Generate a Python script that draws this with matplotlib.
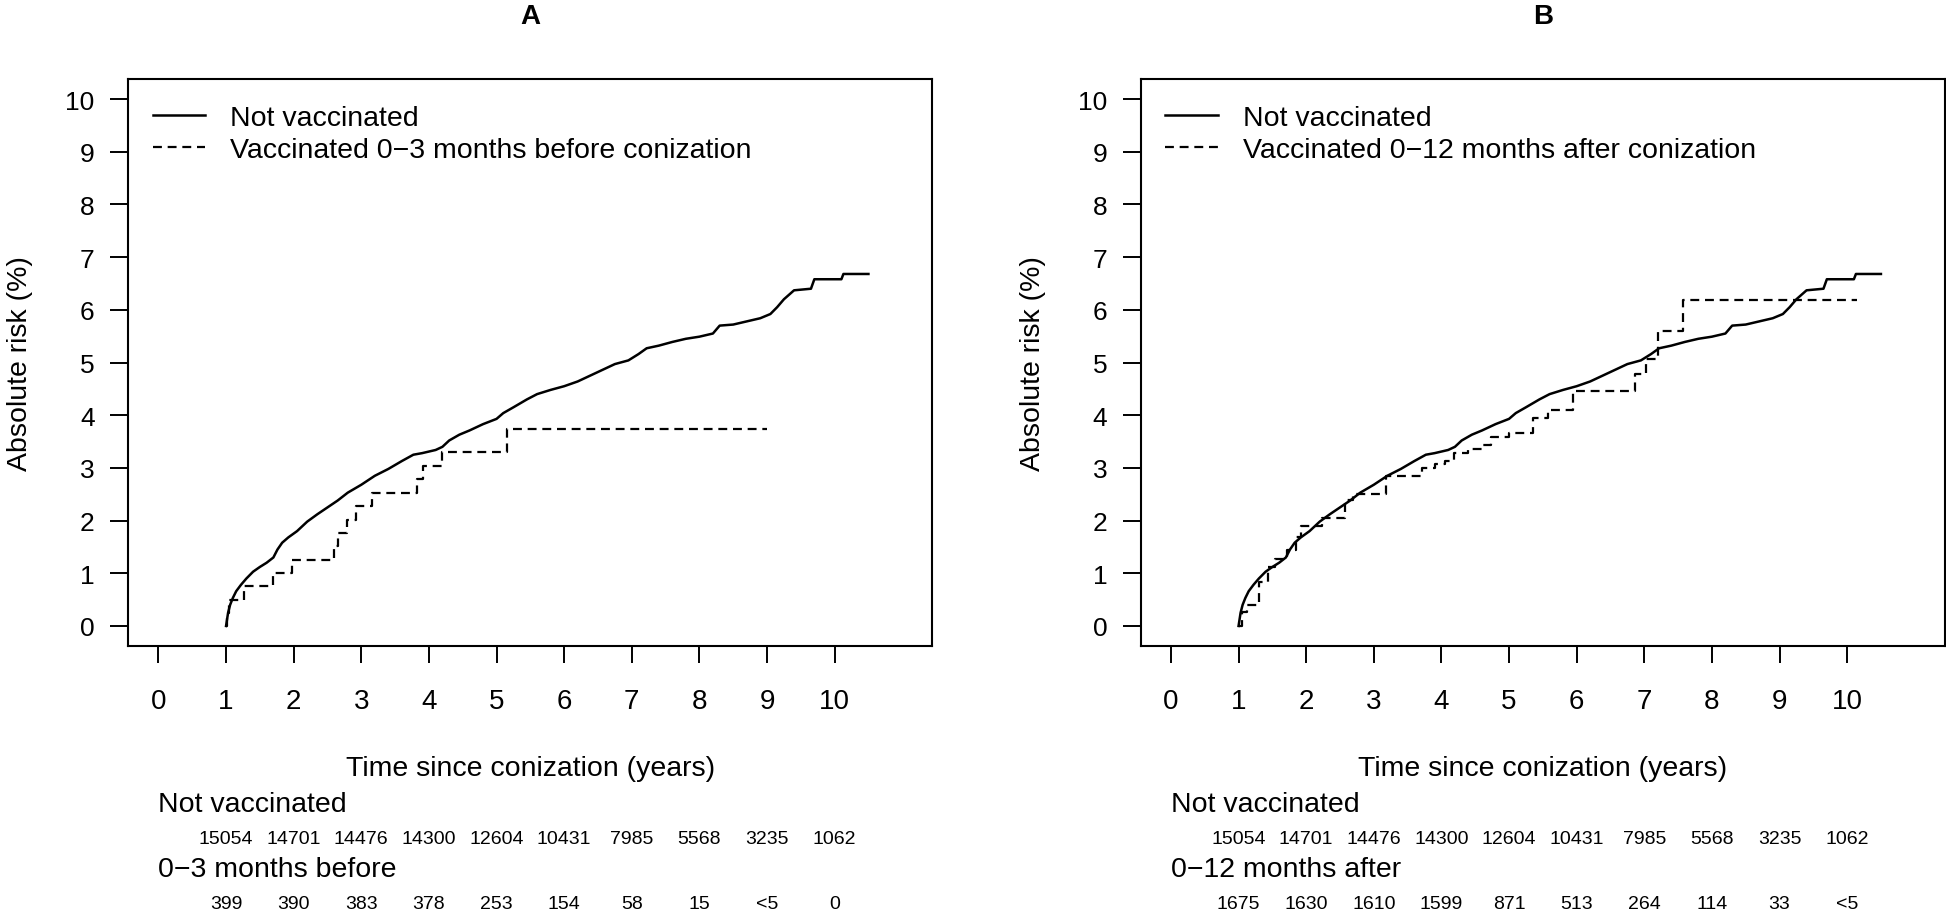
import matplotlib
matplotlib.use("Agg")
import matplotlib.pyplot as plt
from matplotlib.transforms import blended_transform_factory

plt.rcParams['font.family'] = ['Liberation Sans', 'DejaVu Sans']

# Not vaccinated (same curve in both panels), years since conization vs absolute risk (%)
not_vacc_t = [1.00, 1.03, 1.06, 1.10, 1.15, 1.22, 1.30, 1.40, 1.50, 1.60, 1.70, 1.76,
              1.83, 1.92, 2.05, 2.20, 2.35, 2.50, 2.65, 2.80, 3.00, 3.20, 3.40, 3.60,
              3.77, 3.90, 4.10, 4.20, 4.30, 4.45, 4.60, 4.80, 5.00, 5.10, 5.25, 5.45,
              5.60, 5.80, 6.00, 6.20, 6.40, 6.55, 6.75, 6.95, 7.10, 7.22, 7.40, 7.60,
              7.80, 8.00, 8.20, 8.30, 8.50, 8.70, 8.90, 9.05, 9.15, 9.25, 9.40, 9.65,
              9.70, 10.10, 10.13, 10.50]
not_vacc_r = [0.00, 0.25, 0.40, 0.53, 0.66, 0.78, 0.90, 1.03, 1.12, 1.20, 1.30, 1.45,
              1.58, 1.68, 1.80, 1.98, 2.12, 2.25, 2.38, 2.53, 2.68, 2.85, 2.98, 3.13,
              3.25, 3.28, 3.34, 3.40, 3.52, 3.63, 3.71, 3.83, 3.93, 4.04, 4.15, 4.30,
              4.40, 4.48, 4.55, 4.64, 4.76, 4.85, 4.97, 5.04, 5.16, 5.27, 5.32, 5.39,
              5.45, 5.49, 5.55, 5.70, 5.72, 5.78, 5.84, 5.92, 6.05, 6.20, 6.37, 6.40,
              6.58, 6.58, 6.68, 6.68]

# Vaccinated 0-3 months before conization (panel A)
before_t = [1.00, 1.02, 1.04, 1.27, 1.70, 1.97, 2.60, 2.65, 2.79, 2.92, 3.16, 3.83,
            3.91, 4.19, 5.16, 9.00]
before_r = [0.00, 0.25, 0.50, 0.76, 1.01, 1.26, 1.51, 1.77, 2.02, 2.27, 2.53, 2.78,
            3.04, 3.30, 3.73, 3.73]

# Vaccinated 0-12 months after conization (panel B)
after_t = [1.00, 1.05, 1.12, 1.30, 1.44, 1.54, 1.72, 1.85, 1.93, 2.24, 2.58, 2.69,
           3.18, 3.72, 3.90, 4.05, 4.18, 4.40, 4.60, 4.73, 5.00, 5.35, 5.57, 5.95,
           6.86, 7.02, 7.21, 7.58, 10.14]
after_r = [0.00, 0.26, 0.40, 0.84, 1.12, 1.28, 1.45, 1.69, 1.90, 2.05, 2.39, 2.50,
           2.84, 3.00, 3.07, 3.13, 3.28, 3.35, 3.43, 3.58, 3.66, 3.94, 4.09, 4.46,
           4.78, 5.06, 5.59, 6.19, 6.19]

# Numbers at risk at years 1..10
risk_years = [1, 2, 3, 4, 5, 6, 7, 8, 9, 10]
risk_not_vacc = ['15054', '14701', '14476', '14300', '12604', '10431', '7985', '5568', '3235', '1062']
risk_before = ['399', '390', '383', '378', '253', '154', '58', '15', '<5', '0']
risk_after = ['1675', '1630', '1610', '1599', '871', '513', '264', '114', '33', '<5']

W, H = 1946, 912
fig = plt.figure(figsize=(W / 100, H / 100), dpi=100)

panels = [
    ('A', 128, before_t, before_r, 'Vaccinated 0\u22123 months before conization',
     '0\u22123 months before', risk_before),
    ('B', 1140.5, after_t, after_r, 'Vaccinated 0\u221212 months after conization',
     '0\u221212 months after', risk_after),
]

for title, left, vt, vr, vlabel, rlabel, rvals in panels:
    ax = fig.add_axes([left / W, (H - 647) / H, 804 / W, 567 / H])
    ax.plot(not_vacc_t, not_vacc_r, color='black', lw=1.8, label='Not vaccinated')
    ax.plot(vt, vr, color='black', lw=1.6, ls=(0, (4.0, 2.6)), drawstyle='steps-post',
            label=vlabel)
    ax.set_xlim(-0.45, 11.44)
    ax.set_ylim(-0.38, 10.38)
    ax.set_xticks(range(0, 11))
    ax.set_yticks(range(0, 11))
    for s in ax.spines.values():
        s.set_linewidth(1.5)
    ax.tick_params(axis='x', length=12.2, width=1.4, pad=18, labelsize=20)
    ax.tick_params(axis='y', length=13, width=1.4, pad=11, labelsize=19)

    ax.legend(loc='upper left', bbox_to_anchor=(0.031, 0.954), frameon=False,
              fontsize=20.5, handlelength=1.83, handletextpad=0.88,
              labelspacing=0.22, borderpad=0, borderaxespad=0)

    ax.text(-0.134, 0.5, 'Absolute risk (%)', transform=ax.transAxes, rotation=90,
            ha='center', va='center', fontsize=20.5)

    tr = blended_transform_factory(ax.transData, fig.transFigure)
    ax.text(5.5, 1 - 24 / H, title, transform=tr, ha='center', va='baseline',
            fontsize=20, fontweight='bold')
    ax.text(5.5, 1 - 776 / H, 'Time since conization (years)', transform=tr,
            ha='center', va='baseline', fontsize=20.5)
    ax.text(0, 1 - 812 / H, 'Not vaccinated', transform=tr, ha='left',
            va='baseline', fontsize=20.5)
    ax.text(0, 1 - 877 / H, rlabel, transform=tr, ha='left', va='baseline',
            fontsize=20.5)
    for x, a, b in zip(risk_years, risk_not_vacc, rvals):
        ax.text(x, 1 - 844 / H, a, transform=tr, ha='center', va='baseline', fontsize=14)
        ax.text(x, 1 - 909 / H, b, transform=tr, ha='center', va='baseline', fontsize=14)

fig.savefig('out.png', dpi=100)
